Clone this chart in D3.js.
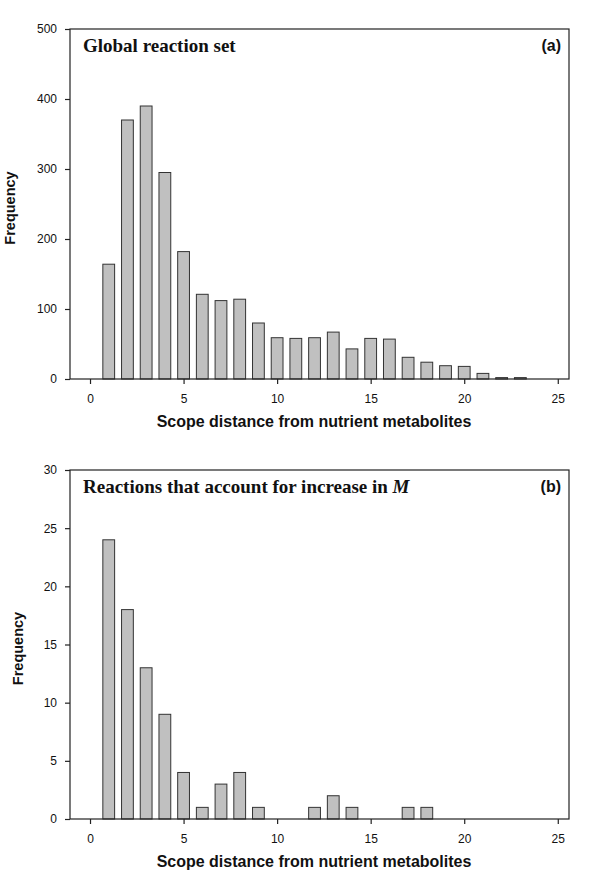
<!DOCTYPE html>
<html>
<head>
<meta charset="utf-8">
<script src="https://cdn.jsdelivr.net/npm/d3@7"></script>
<style>
  html, body { margin: 0; padding: 0; background: #fff; }
  svg { display: block; }
</style>
</head>
<body>
<svg id="chart" width="600" height="873"></svg>
<script>
// ---- data ----
const distA = [1,2,3,4,5,6,7,8,9,10,11,12,13,14,15,16,17,18,19,20,21,22,23];
const freqA = [164,370,390,295,182,121,112,114,80,59,58,59,67,43,58,57,31,24,19,18,8,2,2];
const distB = [1,2,3,4,5,6,7,8,9,10,11,12,13,14,15,16,17,18];
const freqB = [24,18,13,9,4,1,3,4,1,0,0,1,2,1,0,0,1,1];
const xTicks = [0,5,10,15,20,25];
const yTicksA = [0,100,200,300,400,500];
const yTicksB = [0,5,10,15,20,25,30];
const titleA = "Global reaction set";
const titleB = "Reactions that account for increase in ";
const titleBItalic = "M";
const xLabel = "Scope distance from nutrient metabolites";
const yLabel = "Frequency";

const svg = d3.select("#chart");
const SANS = "'Liberation Sans', Arial, sans-serif";
const SERIF = "'Liberation Serif', 'Times New Roman', serif";

function panel(cfg) {
  const g = svg.append("g");
  const x = d3.scaleLinear().domain([-1.07, 25.6]).range([70, 569]);
  const y = d3.scaleLinear().domain([0, cfg.ymax]).range([cfg.bottom, cfg.top]);
  const bw = x(0.63) - x(0);

  // bars
  const data = cfg.dist.map((d, i) => ({d, v: cfg.freq[i]})).filter(o => o.v > 0);
  g.selectAll("rect.bar").data(data).enter().append("rect")
    .attr("class", "bar")
    .attr("x", o => x(o.d) - bw / 2)
    .attr("y", o => y(o.v))
    .attr("width", bw)
    .attr("height", o => y(0) - y(o.v))
    .attr("fill", "#c0c0c0")
    .attr("stroke", "#333")
    .attr("stroke-width", 1);

  // frame
  g.append("rect")
    .attr("x", x.range()[0]).attr("y", cfg.top)
    .attr("width", x.range()[1] - x.range()[0])
    .attr("height", cfg.bottom - cfg.top)
    .attr("fill", "none").attr("stroke", "#222").attr("stroke-width", 1.2);

  // x axis
  const xa = g.append("g").attr("transform", `translate(0,${cfg.bottom})`)
    .call(d3.axisBottom(x).tickValues(xTicks).tickSize(5).tickPadding(10));
  xa.select(".domain").remove();
  xa.selectAll("line").attr("stroke", "#222").attr("stroke-width", 1.2);
  xa.selectAll("text").attr("font-family", SANS).attr("font-size", 12).attr("fill", "#111");

  // y axis
  const ya = g.append("g").attr("transform", `translate(${x.range()[0]},0)`)
    .call(d3.axisLeft(y).tickValues(cfg.yticks).tickSize(5).tickPadding(8));
  ya.select(".domain").remove();
  ya.selectAll("line").attr("stroke", "#222").attr("stroke-width", 1.2);
  ya.selectAll("text").attr("font-family", SANS).attr("font-size", 12).attr("fill", "#111");

  // axis titles
  g.append("text")
    .attr("x", 314).attr("y", cfg.bottom + 48)
    .attr("text-anchor", "middle")
    .attr("font-family", SANS).attr("font-weight", "bold").attr("font-size", 16)
    .attr("fill", "#111")
    .text(xLabel);
  g.append("text")
    .attr("transform", `translate(${cfg.ylabX},${(cfg.top + cfg.bottom) / 2 + 4}) rotate(-90)`)
    .attr("text-anchor", "middle")
    .attr("font-family", SANS).attr("font-weight", "bold").attr("font-size", 14.5)
    .attr("fill", "#111")
    .text(yLabel);

  // panel title
  const t = g.append("text")
    .attr("x", 83).attr("y", cfg.top + 23)
    .attr("font-family", SERIF).attr("font-weight", "bold").attr("font-size", 19)
    .attr("fill", "#111");
  t.append("tspan").text(cfg.title);
  if (cfg.titleIt) t.append("tspan").attr("font-style", "italic").text(cfg.titleIt);

  // panel letter
  g.append("text")
    .attr("x", 561).attr("y", cfg.top + 22)
    .attr("text-anchor", "end")
    .attr("font-family", SANS).attr("font-weight", "bold").attr("font-size", 16)
    .attr("fill", "#111")
    .text(cfg.letter);
}

panel({dist: distA, freq: freqA, ymax: 500, top: 29, bottom: 379, yticks: yTicksA,
       title: titleA, letter: "(a)", ylabX: 15});
panel({dist: distB, freq: freqB, ymax: 30, top: 470, bottom: 819, yticks: yTicksB,
       title: titleB, titleIt: titleBItalic, letter: "(b)", ylabX: 23});
</script>
</body>
</html>
